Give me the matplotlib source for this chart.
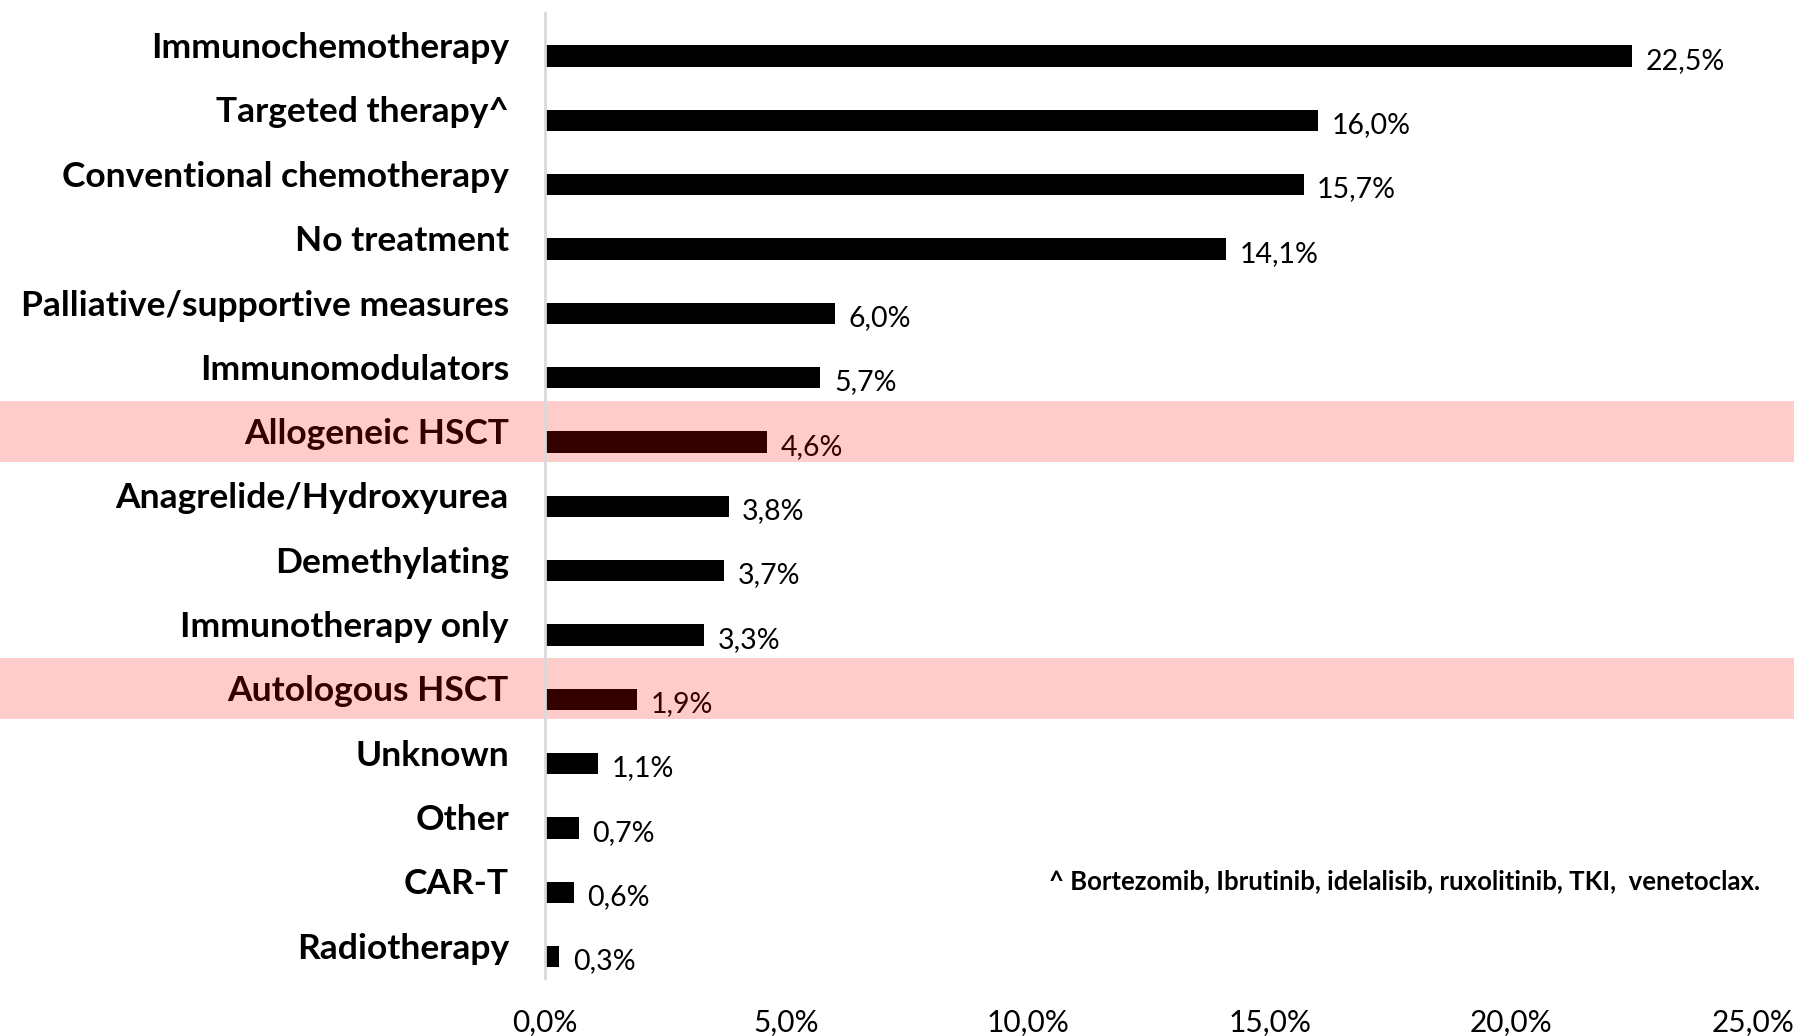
import numpy as np
import matplotlib
matplotlib.use("Agg")
import matplotlib.pyplot as plt
from matplotlib.patches import Rectangle
from matplotlib.transforms import blended_transform_factory

categories = ["Immunochemotherapy", "Targeted therapy^", "Conventional chemotherapy",
              "No treatment", "Palliative/supportive measures", "Immunomodulators",
              "Allogeneic HSCT", "Anagrelide/Hydroxyurea", "Demethylating",
              "Immunotherapy only", "Autologous HSCT", "Unknown", "Other", "CAR-T",
              "Radiotherapy"]
values = [22.5, 16.0, 15.7, 14.1, 6.0, 5.7, 4.6, 3.8, 3.7, 3.3, 1.9, 1.1, 0.7, 0.6, 0.3]
highlighted = ["Allogeneic HSCT", "Autologous HSCT"]
xticks = [0, 5, 10, 15, 20, 25]
footnote = "^ Bortezomib, Ibrutinib, idelalisib, ruxolitinib, TKI,  venetoclax."

def fmt(v):
    return f"{v:.1f}".replace(".", ",") + "%"

plt.rcParams['font.family'] = ['Lato', 'DejaVu Sans']

fig = plt.figure(figsize=(17.94, 10.36), dpi=100)
ax = fig.add_axes([545/1794, 1 - 978/1036, (1753-545)/1794, (978-13)/1036])

n = len(categories)
pos = np.arange(n)
dark = "#330000"
band = "#FFCCCC"

colors = [dark if c in highlighted else "black" for c in categories]
ax.barh(pos + 0.17, values, height=0.33, color=colors, zorder=3)

trans = blended_transform_factory(fig.transFigure, ax.transData)
for i, c in enumerate(categories):
    if c in highlighted:
        r = Rectangle((0, i - 0.475), 1, 0.95, transform=trans, facecolor=band,
                      edgecolor="none", clip_on=False, zorder=0)
        ax.add_patch(r)

for i, (c, v) in enumerate(zip(categories, values)):
    col = dark if c in highlighted else "black"
    ax.text(v + 0.28, i + 0.24, fmt(v), va="center", ha="left", fontsize=20.5,
            color=col, zorder=4)

ax.set_ylim(n - 0.5, -0.5)
ax.set_xlim(0, 25)
ax.set_yticks(pos)
ax.set_yticklabels(categories, fontsize=25.5, fontweight="bold")
for lab, c in zip(ax.get_yticklabels(), categories):
    if c in highlighted:
        lab.set_color(dark)
ax.set_xticks(xticks)
ax.set_xticklabels([fmt(t) for t in xticks], fontsize=21.5)
ax.tick_params(axis="y", length=0, pad=26)
ax.tick_params(axis="x", length=0, pad=22)

ax.set_facecolor("none")
for s in ["top", "right", "bottom"]:
    ax.spines[s].set_visible(False)
ax.spines["left"].set_color("#d9d9d9")
ax.spines["left"].set_linewidth(2)
ax.spines["left"].set_zorder(5)

ax.text(1760/1794, 13, footnote, transform=trans, ha="right", va="center",
        fontsize=18.5, fontweight="bold")

fig.savefig("out.png", dpi=100, facecolor="white")
